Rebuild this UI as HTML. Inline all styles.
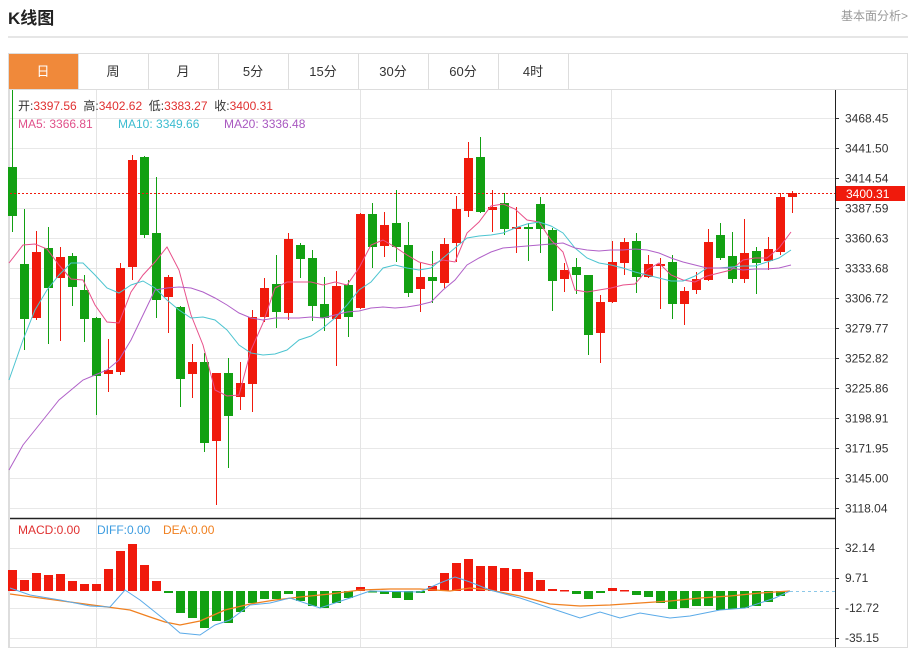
<!DOCTYPE html><html><head><meta charset="utf-8"><style>
body{margin:0;width:918px;height:649px;background:#fff;overflow:hidden;font-family:"Liberation Sans","Noto Sans CJK SC",sans-serif}
</style></head><body>
<svg id="s" width="918" height="649" xmlns="http://www.w3.org/2000/svg" font-family="Liberation Sans, Noto Sans CJK SC, sans-serif">
<text x="8" y="24" font-size="17" font-weight="bold" fill="#222">K线图</text>
<text x="908" y="20" font-size="12" fill="#999" text-anchor="end">基本面分析&gt;</text>
<line x1="8" y1="37" x2="908" y2="37" stroke="#ccc"/>
<rect x="8.5" y="53.5" width="899" height="594" fill="none" stroke="#ddd"/>
<line x1="8" y1="89.5" x2="908" y2="89.5" stroke="#ddd"/>
<rect x="9" y="54" width="69" height="35" fill="#f0893a"/>
<g font-size="13" fill="#333" text-anchor="middle">
<text x="43" y="76" fill="#fff">日</text><text x="113" y="76">周</text><text x="183" y="76">月</text><text x="253" y="76">5分</text><text x="323" y="76">15分</text><text x="393" y="76">30分</text><text x="463" y="76">60分</text><text x="533" y="76">4时</text>
</g>
<g stroke="#ddd"><line x1="78.5" y1="54" x2="78.5" y2="89"/><line x1="148.5" y1="54" x2="148.5" y2="89"/><line x1="218.5" y1="54" x2="218.5" y2="89"/><line x1="288.5" y1="54" x2="288.5" y2="89"/><line x1="358.5" y1="54" x2="358.5" y2="89"/><line x1="428.5" y1="54" x2="428.5" y2="89"/><line x1="498.5" y1="54" x2="498.5" y2="89"/><line x1="568.5" y1="54" x2="568.5" y2="89"/></g>
<g id="g"></g>
</svg>
<script>
var g=document.getElementById('g'),h='';
function L(x1,y1,x2,y2,c,w,d){h+='<line x1="'+x1+'" y1="'+y1+'" x2="'+x2+'" y2="'+y2+'" stroke="'+c+'" stroke-width="'+(w||1)+'"'+(d?' stroke-dasharray="'+d+'"':'')+'/>';}
function T(x,y,t,c,s,a){h+='<text x="'+x+'" y="'+y+'" fill="'+c+'" font-size="'+(s||12)+'"'+(a?' text-anchor="'+a+'"':'')+'>'+t+'</text>';}
var labs=['3468.45','3441.50','3414.54','3387.59','3360.63','3333.68','3306.72','3279.77','3252.82','3225.86','3198.91','3171.95','3145.00','3118.04'];
for(var i=0;i<14;i++){var y=118+30*i+.5;L(9,y,835,y,'#e8e8e8');L(835,y,839,y,'#333');T(845,y+4,labs[i],'#333',12);}
[96,360,611].forEach(function(x){L(x+.5,90,x+.5,647,'#e4e4e4');});
[548,578,608,638].forEach(function(y,i){L(9,y+.5,835,y+.5,'#e8e8e8');L(835,y+.5,839,y+.5,'#333');T(845,y+4,['32.14','9.71','-12.72','-35.15'][i],'#333',12);});
L(9,518.5,835,518.5,'#222',1.5);L(835.5,90,835.5,647,'#222');
L(9.5,90,9.5,647,'#ddd');
var C=[['g',167,216,90,232],['g',264,319,209,350],['r',252,318,231,320],['g',248,288,227,344],['r',257,278,247,341],['g',256,287,253,306],['g',290,319,275,342],['g',318,376,317,415],['r',370,374,339,392],['r',268,372,263,375],['r',160,267,155,280],['g',157,235,156,238],['g',233,300,177,318],['r',277,297,275,333],['g',307,379,306,407],['r',362,374,344,398],['g',362,443,353,452],['r',373,441,373,505],['g',373,416,358,468],['r',383,397,362,410],['r',317,384,310,412],['r',288,317,278,322],['g',284,312,255,328],['r',239,313,233,320],['g',245,259,243,278],['g',258,306,250,321],['g',304,318,277,331],['r',286,319,271,366],['g',285,317,280,337],['r',214,308,213,309],['g',214,247,203,268],['r',225,246,212,257],['g',223,247,190,262],['g',245,293,222,297],['r',277,289,263,312],['g',277,281,251,303],['r',244,283,238,288],['r',209,243,196,262],['r',158,211,142,217],['g',157,212,137,213],['r',207,210,190,232],['g',203,229,193,235],['r',227,228,207,253],['g',227,229,223,261],['g',204,229,197,253],['g',230,281,228,311],['r',270,279,263,292],['g',267,275,258,294],['g',275,335,275,355],['r',302,333,295,363],['r',262,302,241,303],['r',242,263,238,275],['g',241,277,233,293],['r',264,277,255,278],['r',264,266,258,309],['g',262,304,255,319],['r',291,304,287,325],['r',279,290,272,294],['r',242,280,229,281],['g',235,258,223,260],['g',256,279,232,283],['r',253,279,219,283],['g',251,263,247,294],['r',249,261,237,270],['r',197,252,193,255],['r',193,197,191,213]];
var RC='#f01a0c',GC='#12a012';
C.forEach(function(c,i){var x=12+12*i,col=c[0]=='r'?RC:GC;L(x+.5,c[3],x+.5,c[4],col);var bh=Math.max(c[2]-c[1],2);h+='<rect x="'+(x-4)+'" y="'+c[1]+'" width="9" height="'+bh+'" fill="'+col+'"/>';});
function P(pts,c,w){var s='';for(var i=0;i<pts.length;i+=2)s+=(i?'L':'M')+pts[i]+' '+pts[i+1];h+='<path d="'+s+'" fill="none" stroke="'+c+'" stroke-width="'+(w||1)+'"/>';}
P([9,263,23,245,35,244,47,249,59,265,71,279,83,280,95,305,107,322,119,323,131,292,143,275,155,262,167,247,179,270,191,315,203,345,215,390,227,396,239,395,251,350,263,323,275,288,287,282,299,282,311,282,323,285,335,282,347,285,359,268,371,245,383,240,395,247,407,255,419,262,431,265,443,260,455,262,467,233,479,222,491,206,503,204,515,209,527,220,539,222,551,240,563,252,575,290,587,292,599,290,611,288,623,285,635,284,647,270,659,263,671,275,683,280,695,282,707,276,719,273,731,270,743,260,755,258,767,258,779,248,791,232],'#e8508a');
P([9,380,23,340,35,310,47,290,59,275,71,263,83,263,95,275,107,288,119,293,131,285,143,281,155,288,167,300,179,310,191,318,203,317,215,320,227,330,239,345,251,353,263,355,275,354,287,350,299,340,311,336,323,328,335,318,347,305,359,290,371,282,383,268,395,265,407,268,419,270,431,268,443,258,455,248,467,238,479,236,491,235,503,233,515,228,527,224,539,222,551,226,563,233,575,248,587,258,599,263,611,265,623,268,635,272,647,275,659,278,671,281,683,281,695,276,707,268,719,268,731,267,743,266,755,266,767,262,779,258,791,250],'#4cc4d0');
P([9,470,23,445,35,430,47,415,59,400,71,390,83,380,95,375,107,370,119,360,131,340,143,315,155,290,167,288,179,287,191,288,203,292,215,298,227,305,239,313,251,318,263,320,275,318,287,318,299,318,311,317,323,318,335,315,347,312,359,311,371,308,383,307,395,308,407,307,419,305,431,302,443,290,455,280,467,265,479,258,491,252,503,248,515,247,527,246,539,245,551,244,563,243,575,248,587,250,599,251,611,250,623,250,635,249,647,250,659,253,671,258,683,262,695,265,707,268,719,268,731,268,743,270,755,269,767,269,779,268,791,265],'#b060c8');
L(10,193.5,835,193.5,RC,1,'2,2');
h+='<rect x="836" y="186" width="69" height="15" fill="'+RC+'"/>';T(846,198,'3400.31','#fff',12);
var ms='开:<tspan fill="#e03030">3397.56</tspan>  高:<tspan fill="#e03030">3402.62</tspan>  低:<tspan fill="#e03030">3383.27</tspan>  收:<tspan fill="#e03030">3400.31</tspan>';
h+='<text x="18" y="110" font-size="12" fill="#333" xml:space="preserve">'+ms+'</text>';
T(18,128,'MA5: 3366.81','#e0508a',12);T(118,128,'MA10: 3349.66','#3cbcd0',12);T(224,128,'MA20: 3336.48','#a858c0',12);
T(18,534,'MACD:0.00','#e03030',12);T(97,534,'DIFF:0.00','#3c9ce0',12);T(163,534,'DEA:0.00','#f08020',12);
var M=[570,580,573,575,574,581,584,584,569,551,544,565,581,593,613,618,628,621,623,612,603,599,599,594,601,606,608,603,598,587,592,594,598,600,593,586,573,563,559,566,566,568,569,572,580,589,590,594,599,593,588,590,595,597,603,609,608,606,606,610,609,608,606,602,596];
var z=591;M.forEach(function(v,i){var x=12+12*i;var col=v<z?RC:GC;var y=Math.min(v,z),hh=Math.max(Math.abs(v-z),1.5);h+='<rect x="'+(x-4)+'" y="'+y+'" width="9" height="'+hh+'" fill="'+col+'"/>';});
L(790,591.5,835,591.5,'#8cc8e8',1,'3,3');
P([10,594,40,598,70,602,100,606,130,610,150,617,165,622,180,625,200,621,225,610,250,604,275,600,300,597,330,594,360,590,390,589,420,589,450,591,470,588,490,590,520,596,550,604,580,606,610,605,640,603,670,601,700,598,730,596,760,593,790,591],'#f08020',1.3);
P([10,588,30,595,60,600,90,606,110,607,125,590,140,600,165,620,180,633,200,635,215,625,230,620,250,605,270,603,290,598,320,608,350,598,370,591,420,592,440,583,455,577,470,582,490,590,520,598,550,608,580,618,600,612,620,618,640,613,670,618,690,616,720,610,745,608,775,598,790,591],'#5aaae8',1);
g.innerHTML=h;
</script>
</body></html>
